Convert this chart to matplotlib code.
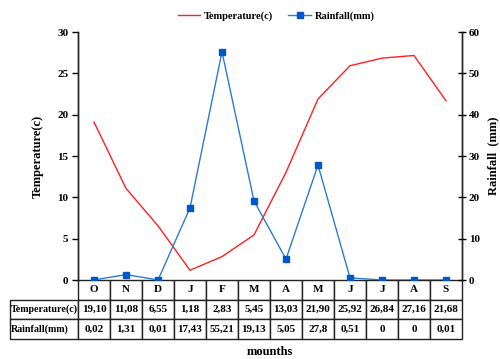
import matplotlib
matplotlib.use("Agg")
import matplotlib.pyplot as plt
from matplotlib.table import Table

months = ["O", "N", "D", "J", "F", "M", "A", "M", "J", "J", "A", "S"]
temperature = [19.10, 11.08, 6.55, 1.18, 2.83, 5.45, 13.03, 21.90, 25.92, 26.84, 27.16, 21.68]
rainfall = [0.02, 1.31, 0.01, 17.43, 55.21, 19.13, 5.05, 27.8, 0.51, 0, 0, 0.01]
temp_labels = ["19,10", "11,08", "6,55", "1,18", "2,83", "5,45", "13,03", "21,90", "25,92", "26,84", "27,16", "21,68"]
rain_labels = ["0,02", "1,31", "0,01", "17,43", "55,21", "19,13", "5,05", "27,8", "0,51", "0", "0", "0,01"]
row_labels = ["Temperature(c)", "Rainfall(mm)"]

plt.rcParams['font.family'] = ['Liberation Serif', 'DejaVu Serif']
plt.rcParams['font.weight'] = 'bold'
plt.rcParams['font.size'] = 8

W, H = 500, 359
fig = plt.figure(figsize=(5.0, 3.59), dpi=100)
ax = fig.add_axes([78 / W, 1 - 280 / H, (462 - 78) / W, (280 - 32) / H])
ax2 = ax.twinx()

x = list(range(len(months)))
l1, = ax.plot(x, temperature, color='#ff2020', lw=1.0, label='Temperature(c)')
l2, = ax2.plot(x, rainfall, color='#2a7bd6', lw=1.0, marker='s', markersize=4,
               markerfacecolor='#0058c8', markeredgecolor='#0058c8', label='Rainfall(mm)')

ax.set_xlim(-0.5, len(months) - 0.5)
ax.set_ylim(0, 30)
ax2.set_ylim(0, 60)
ax.set_yticks(range(0, 31, 5))
ax2.set_yticks(range(0, 61, 10))
ax.set_xticks([])
for a in (ax, ax2):
    a.spines['top'].set_visible(False)
    a.spines['bottom'].set_visible(False)
    for s in a.spines.values():
        s.set_color('#222222')
        s.set_linewidth(1.0)
ax.tick_params(axis='y', direction='out', length=4, width=1, pad=3, labelsize=8)
ax2.tick_params(axis='y', direction='inout', length=6, width=1, pad=2, labelsize=8)

ax.set_ylabel('Temperature(c)', fontsize=9, fontweight='bold', labelpad=10)
ax2.set_ylabel('Rainfall  (mm)', fontsize=9, fontweight='bold', labelpad=5)

fig.legend([l1, l2], ['Temperature(c)', 'Rainfall(mm)'], loc='center', ncol=2,
           bbox_to_anchor=(276 / W, 1 - 16 / H), frameon=False, fontsize=7.5,
           handlelength=2.2, columnspacing=1.5, handletextpad=0.3)

axw = 462 - 78
axh = 280 - 32
rlw = 68 / axw
cw = 1 / len(months)
rh = 59 / axh / 3
tab = Table(ax, bbox=[0, -59 / axh, 1, 59 / axh])
for c, m in enumerate(months):
    tab.add_cell(0, c, width=cw, height=rh, text=m, loc='center')
for r, (lab, vals) in enumerate(zip(row_labels, [temp_labels, rain_labels]), start=1):
    tab.add_cell(r, -1, width=rlw, height=rh, text=lab, loc='left')
    for c, v in enumerate(vals):
        tab.add_cell(r, c, width=cw, height=rh, text=v, loc='center')
tab.auto_set_font_size(False)
tab.set_fontsize(8)
for (r, c), cell in tab.get_celld().items():
    cell.set_edgecolor('#222222')
    cell.set_linewidth(1.0)
    cell.get_text().set_fontweight('bold')
    if c == -1:
        cell.PAD = 0.015
        cell.get_text().set_fontsize(7.2)
ax.add_table(tab)

fig.text(270 / W, 1 - 352 / H, 'mounths', ha='center', va='center', fontsize=9, fontweight='bold')

fig.savefig('out.png', dpi=100)
